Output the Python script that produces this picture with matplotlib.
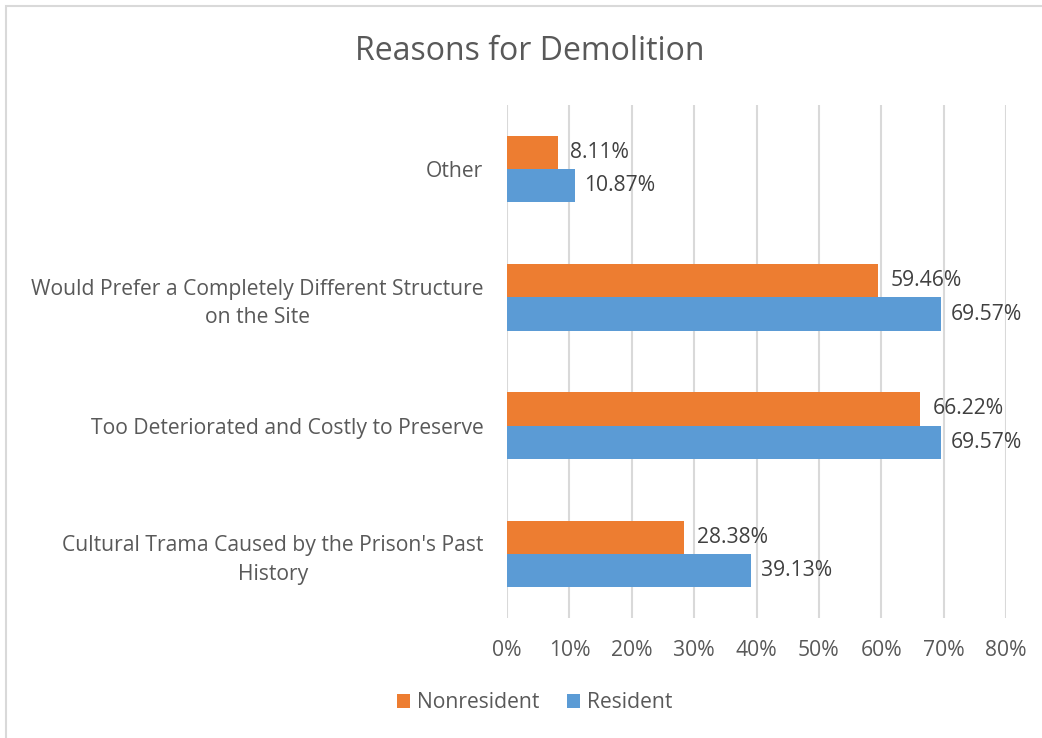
import numpy as np
import matplotlib
matplotlib.use("Agg")
import matplotlib.pyplot as plt
from matplotlib.patches import Rectangle

categories = ["Other",
              "Would Prefer a Completely Different Structure\non the Site",
              "Too Deteriorated and Costly to Preserve",
              "Cultural Trama Caused by the Prison's Past\nHistory"]
nonresident = [8.11, 59.46, 66.22, 28.38]
resident = [10.87, 69.57, 69.57, 39.13]

TXT = "#595959"
FS = 15.2
plt.rcParams.update({"font.family": ["Open Sans", "DejaVu Sans"], "text.color": TXT,
                     "xtick.color": TXT, "ytick.color": TXT})

W, H = 1042, 738
fig = plt.figure(figsize=(W / 100, H / 100), dpi=100)
ax = fig.add_axes([507 / W, 1 - 618 / H, (1006 - 507) / W, (618 - 105) / H])

y = np.arange(len(categories))
h = 0.26
ax.barh(y - h / 2, nonresident, h, color="#ED7D31", label="Nonresident", zorder=3)
ax.barh(y + h / 2, resident, h, color="#5B9BD5", label="Resident", zorder=3)
for yi, v in zip(y, nonresident):
    ax.annotate(f"{v:.2f}%", (v, yi - h / 2), xytext=(9, 0), textcoords="offset points",
                va="center", ha="left", fontsize=FS, color="#404040")
for yi, v in zip(y, resident):
    ax.annotate(f"{v:.2f}%", (v, yi + h / 2), xytext=(7, 0), textcoords="offset points",
                va="center", ha="left", fontsize=FS, color="#404040")

ax.set_xlim(0, 80)
ax.set_ylim(len(categories) - 0.5, -0.5)
ax.set_xticks(np.arange(0, 81, 10))
ax.set_xticklabels([f"{t}%" for t in range(0, 81, 10)], fontsize=FS)
ax.set_yticks(y)
ax.set_yticklabels(categories, fontsize=FS, ha="right", multialignment="center",
                   linespacing=1.45)
ax.tick_params(length=0, pad=16)
ax.tick_params(axis="y", pad=17)
ax.grid(axis="x", color="#D9D9D9", lw=1.5, zorder=0)
for s in ax.spines.values():
    s.set_visible(False)

fig.text(530 / W, 1 - 51 / H, "Reasons for Demolition", ha="center", va="center",
         fontsize=23, color=TXT)
fig.legend(loc="center", bbox_to_anchor=(535 / W, 1 - 703 / H), ncol=2, frameon=False,
           fontsize=FS, handlelength=0.6, handleheight=0.6, columnspacing=1.3, handletextpad=0.35)
fig.patches.append(Rectangle((6 / W, -0.1), 1.2, 1 - 6 / H + 0.1, transform=fig.transFigure,
                             fill=False, ec="#D9D9D9", lw=1.5))
fig.savefig("out.png", dpi=100)
